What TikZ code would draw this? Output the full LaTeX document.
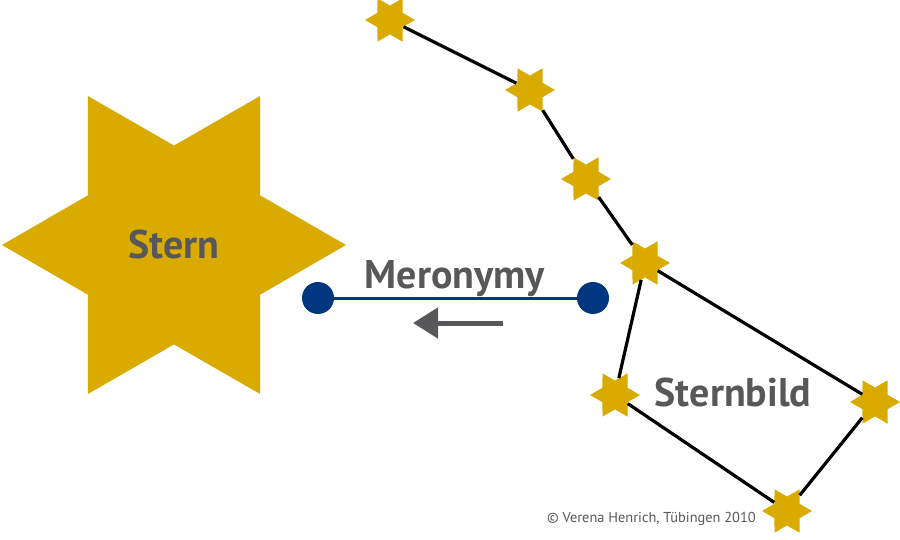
\documentclass[tikz,border=0pt]{standalone}
\usepackage{fontspec}
\setmainfont{PT Sans}
\usepackage{tikz}
\usetikzlibrary{arrows.meta, shapes.geometric}
\definecolor{stargold}{HTML}{D9AA00}
\definecolor{textgray}{HTML}{58585A}
\definecolor{relnavy}{HTML}{00357F}

\begin{document}
\begin{tikzpicture}[
  x=1pt, y=-1pt,
  smallstar/.style={star, star points=6, star point ratio=1.73, shape border rotate=90, fill=stargold, inner sep=0pt, minimum size=50pt},
  bigstar/.style={smallstar, minimum size=344pt, text=textgray, font=\fontsize{40}{46}\selectfont\bfseries},
  link/.style={black, line width=3.2pt},
  dot/.style={circle, fill=relnavy, inner sep=0pt, minimum size=32pt},
  relation/.style={relnavy, line width=3pt},
  label/.style={text=textgray, font=\fontsize{40}{46}\selectfont\bfseries, inner sep=0pt},
  arrow/.style={-{Triangle[length=25pt, width=30pt]}, textgray, line width=5pt},
]
  \useasboundingbox (0,0) rectangle (900,540);
  % part: one star
  \node[bigstar] (stern) at (174,245) {Stern};
  % whole: the constellation
  \node[smallstar] (s1) at (390,20) {};
  \node[smallstar] (s2) at (530,90) {};
  \node[smallstar] (s3) at (586,179) {};
  \node[smallstar] (s4) at (645,263) {};
  \node[smallstar] (s5) at (615,395) {};
  \node[smallstar] (s6) at (875,402) {};
  \node[smallstar] (s7) at (787,511) {};
  \foreach \a/\b in {1/2, 2/3, 3/4, 4/5, 4/6, 5/7, 6/7}
    \draw[link] (s\a) -- (s\b);
  \node[label, anchor=base] (sternbild) at (733,406) {Sternbild};
  % the relation
  \node[dot] (meroL) at (318,298) {};
  \node[dot] (meroR) at (593,298) {};
  \draw[relation] (meroL) -- (meroR);
  \node[label, anchor=base] (meronymy) at (455,288) {Meronymy};
  \coordinate (arrowfrom) at (503,323);
  \coordinate (arrowto) at (413,323);
  \draw[arrow] (arrowfrom) -- (arrowto);
  \node[text=textgray, font=\fontsize{14.4}{16}\selectfont, anchor=base west, inner sep=0pt] (credit) at (547,522) {© Verena Henrich, Tübingen 2010};
\end{tikzpicture}
\end{document}
